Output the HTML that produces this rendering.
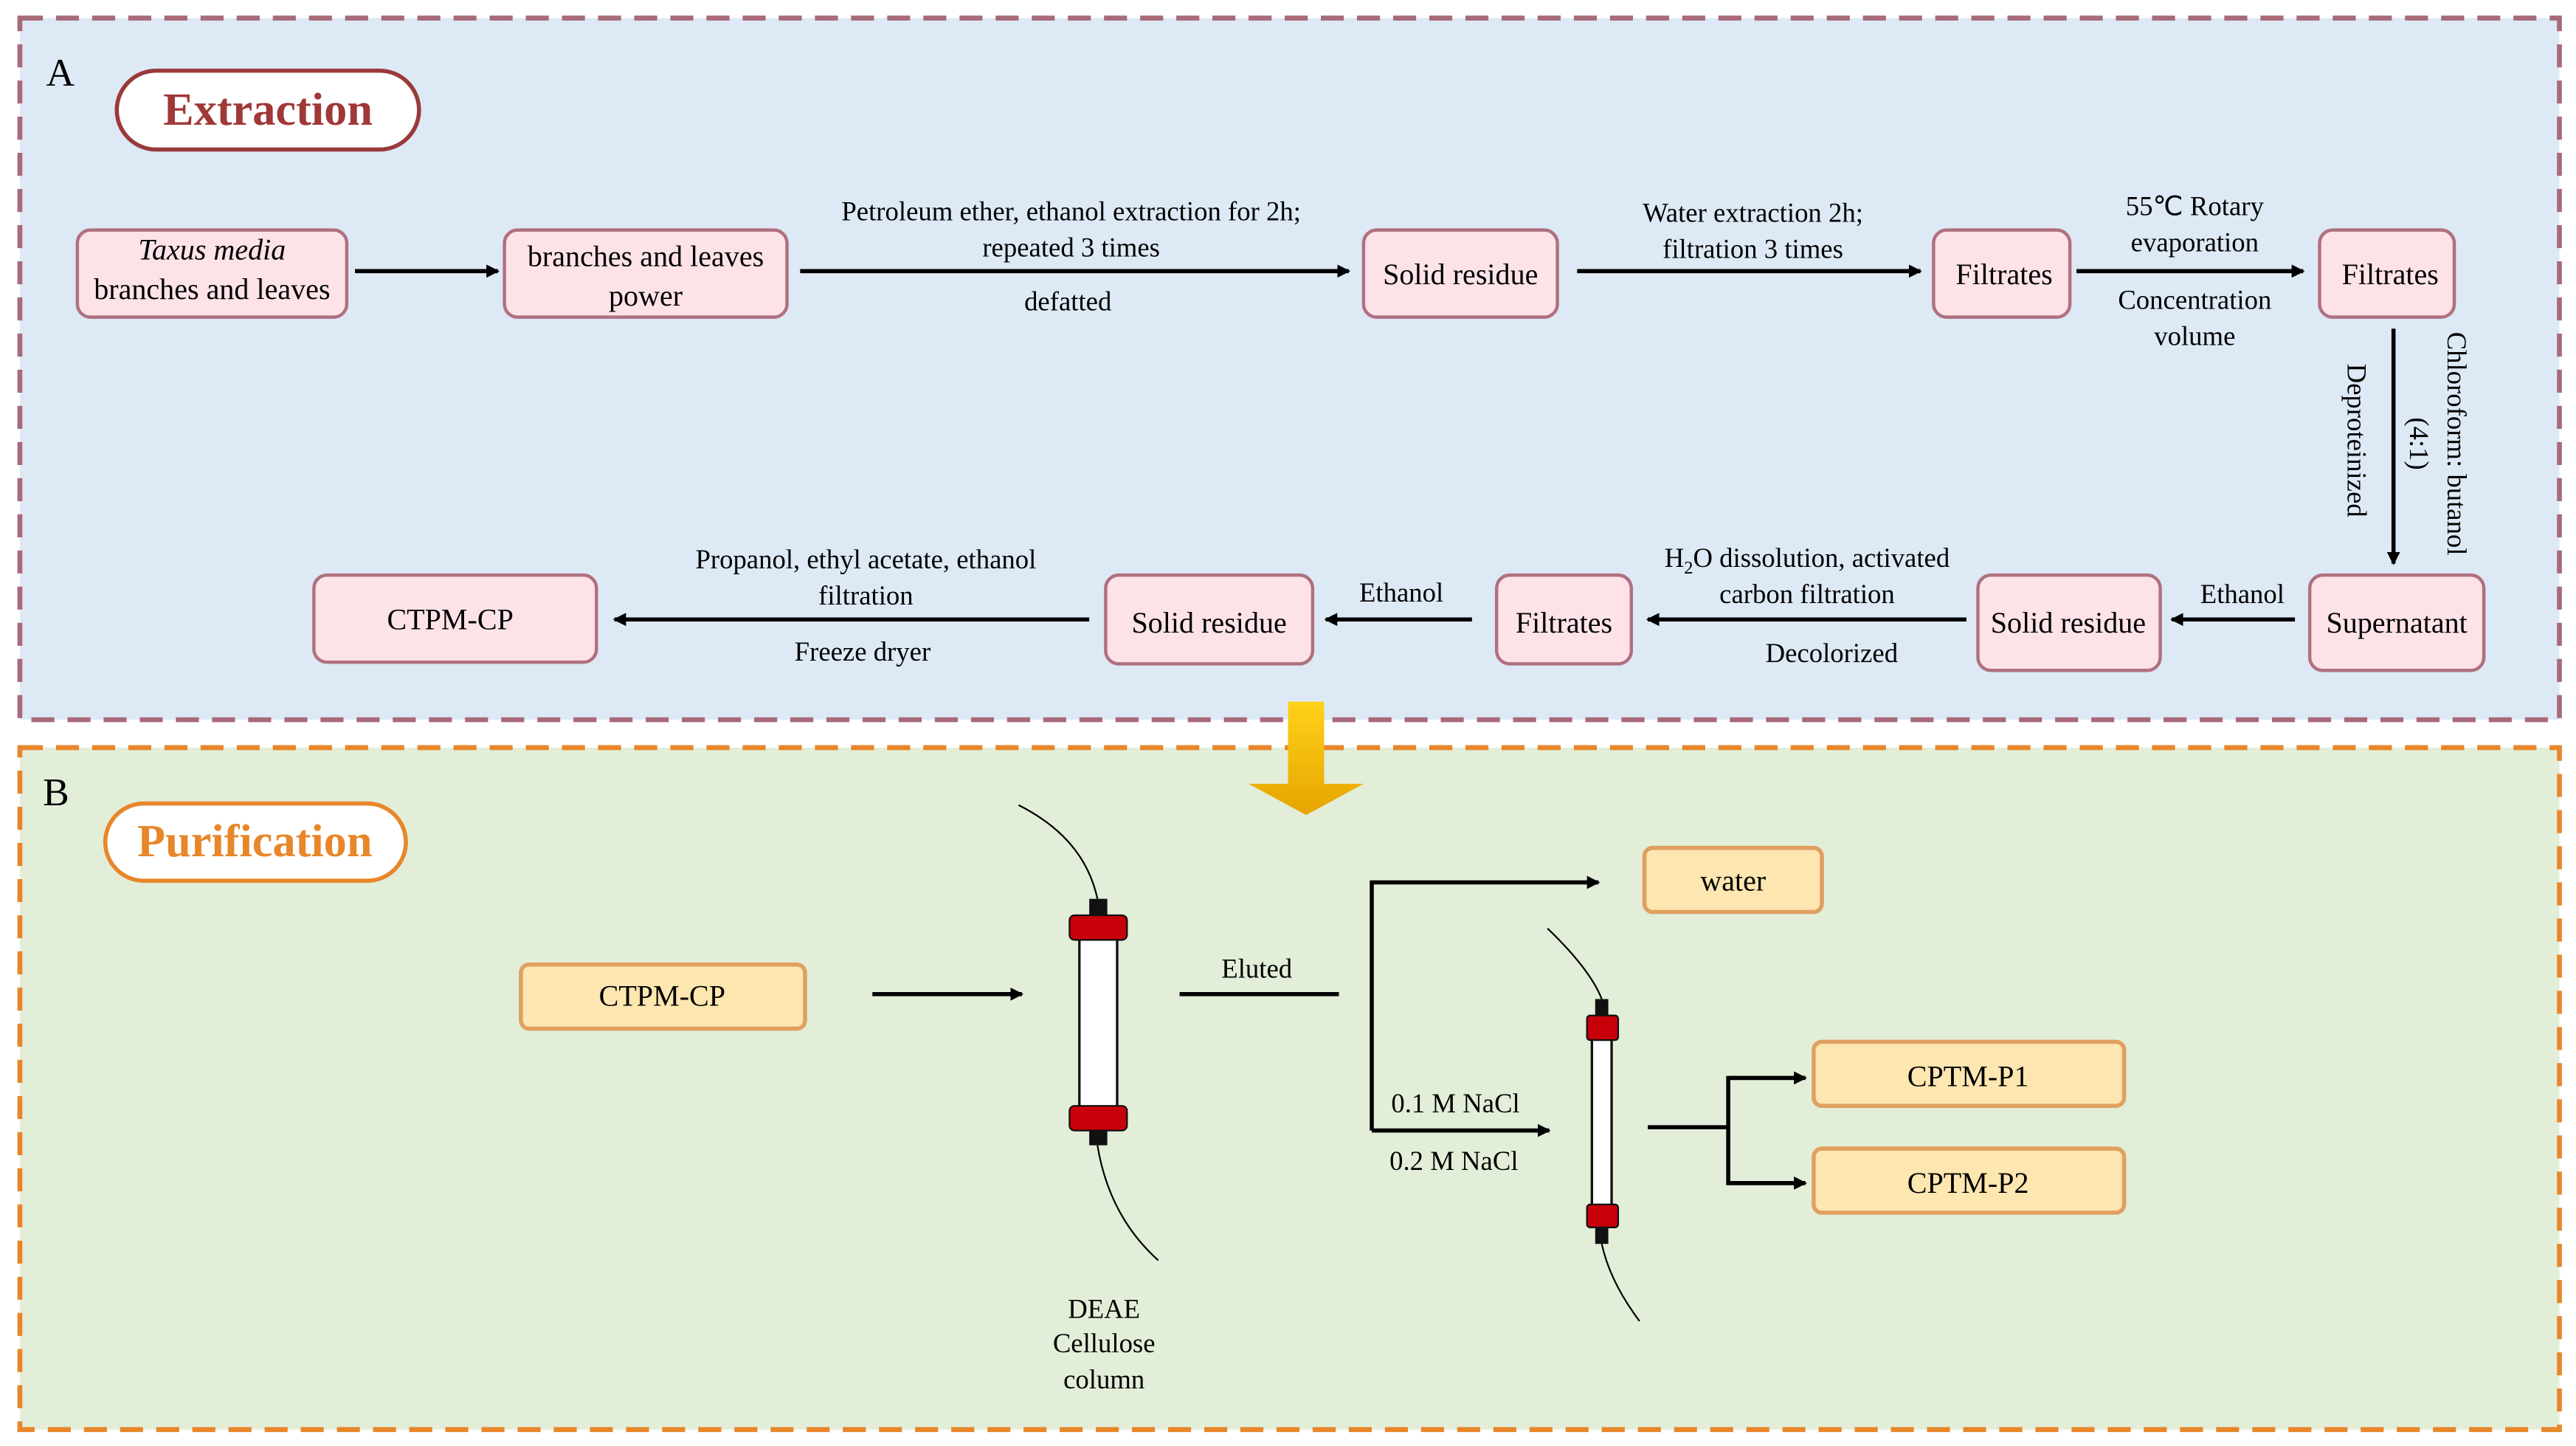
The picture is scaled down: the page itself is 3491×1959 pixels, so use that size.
<!DOCTYPE html>
<html><head><meta charset="utf-8"><style>html,body{margin:0;padding:0;background:#fff}svg{display:block}svg text{font-family:"Liberation Serif","Times New Roman",serif}</style></head>
<body>
<svg width="3491" height="1959" viewBox="0 0 1568 880" xmlns="http://www.w3.org/2000/svg" style="font-family:'Liberation Serif',serif" font-size="17">
<defs>
<marker id="ah" markerWidth="8" markerHeight="8" refX="7" refY="4" orient="auto" markerUnits="userSpaceOnUse"><path d="M0,0 L8,4 L0,8 z" fill="#000"/></marker>
<linearGradient id="yg" x1="0" y1="0" x2="0" y2="1"><stop offset="0" stop-color="#ffd21a"/><stop offset="1" stop-color="#e6a400"/></linearGradient>
</defs>
<rect x="12" y="11" width="1546" height="427" fill="#dde9f5" stroke="#a86a7a" stroke-width="3" stroke-dasharray="14,8"/>
<rect x="12" y="455" width="1546" height="415" fill="#e2eed8" stroke="#e8862a" stroke-width="3" stroke-dasharray="14,8"/>
<text x="28" y="52" font-size="24">A</text>
<rect x="71" y="43" width="184" height="48" rx="24" fill="#fff" stroke="#9a3a3a" stroke-width="2.5"/>
<text x="163" y="76" font-size="28" font-weight="bold" fill="#a03838" text-anchor="middle">Extraction</text>
<g fill="#fde3e8" stroke="#b07080" stroke-width="2">
<rect x="47" y="140" width="164" height="53" rx="8"/><rect x="307" y="140" width="172" height="53" rx="8"/>
<rect x="830" y="140" width="118" height="53" rx="8"/><rect x="1177" y="140" width="83" height="53" rx="8"/>
<rect x="1412" y="140" width="82" height="53" rx="8"/>
<rect x="1406" y="350" width="106" height="58" rx="8"/><rect x="1204" y="350" width="111" height="58" rx="8"/>
<rect x="911" y="350" width="82" height="54" rx="8"/><rect x="673" y="350" width="126" height="54" rx="8"/>
<rect x="191" y="350" width="172" height="53" rx="8"/>
</g>
<g text-anchor="middle" font-size="18">
<text x="129" y="158" font-style="italic">Taxus media</text><text x="129" y="182">branches and leaves</text>
<text x="393" y="162">branches and leaves</text><text x="393" y="186">power</text>
<text x="889" y="173">Solid residue</text><text x="1220" y="173">Filtrates</text><text x="1455" y="173">Filtrates</text>
<text x="1459" y="385">Supernatant</text><text x="1259" y="385">Solid residue</text><text x="952" y="385">Filtrates</text>
<text x="736" y="385">Solid residue</text><text x="274" y="383">CTPM-CP</text>
</g>
<g stroke="#000" stroke-width="2.5" marker-end="url(#ah)">
<line x1="216" y1="165" x2="303" y2="165"/><line x1="487" y1="165" x2="821" y2="165"/>
<line x1="960" y1="165" x2="1169" y2="165"/><line x1="1264" y1="165" x2="1402" y2="165"/>
<line x1="1457" y1="200" x2="1457" y2="343"/>
<line x1="1397" y1="377" x2="1322" y2="377"/><line x1="1197" y1="377" x2="1003" y2="377"/>
<line x1="896" y1="377" x2="807" y2="377"/><line x1="663" y1="377" x2="374" y2="377"/>
</g>
<g text-anchor="middle" font-size="16.5">
<text x="652" y="134">Petroleum ether, ethanol extraction for 2h;</text><text x="652" y="156">repeated 3 times</text>
<text x="650" y="189">defatted</text>
<text x="1067" y="135">Water extraction 2h;</text><text x="1067" y="157">filtration 3 times</text>
<text x="1336" y="131">55℃ Rotary</text><text x="1336" y="153">evaporation</text>
<text x="1336" y="188">Concentration</text><text x="1336" y="210">volume</text>
<text x="1365" y="367">Ethanol</text>
<text x="1100" y="345">H<tspan font-size="11" dy="4">2</tspan><tspan dy="-4">O dissolution, activated</tspan></text>
<text x="1100" y="367">carbon filtration</text><text x="1115" y="403">Decolorized</text>
<text x="853" y="366">Ethanol</text>
<text x="527" y="346">Propanol, ethyl acetate, ethanol</text><text x="527" y="368">filtration</text>
<text x="525" y="402">Freeze dryer</text>
<text transform="translate(1429,268) rotate(90)">Deproteinized</text>
<text transform="translate(1490,270) rotate(90)">Chloroform: butanol</text>
<text transform="translate(1467,270) rotate(90)">(4:1)</text>
</g>
<path d="M784,427 L806,427 L806,477 L830,477 L795,496 L760,477 L784,477 z" fill="url(#yg)"/>
<text x="26" y="490" font-size="24">B</text>
<rect x="64" y="489" width="183" height="47" rx="23.5" fill="#fff" stroke="#e8862a" stroke-width="2.5"/>
<text x="155" y="521" font-size="28" font-weight="bold" fill="#e8862a" text-anchor="middle">Purification</text>
<g fill="#fde6b0" stroke="#e0a060" stroke-width="2.5">
<rect x="317" y="587" width="173" height="39" rx="5"/><rect x="1001" y="516" width="108" height="39" rx="5"/>
<rect x="1104" y="634" width="189" height="39" rx="5"/><rect x="1104" y="699" width="189" height="39" rx="5"/>
</g>
<g text-anchor="middle" font-size="18">
<text x="403" y="612">CTPM-CP</text><text x="1055" y="542">water</text>
<text x="1198" y="661">CPTM-P1</text><text x="1198" y="726">CPTM-P2</text>
</g>
<g text-anchor="middle" font-size="16.5">
<text x="765" y="595">Eluted</text>
<text x="886" y="677">0.1 M NaCl</text><text x="885" y="712">0.2 M NaCl</text>
<text x="672" y="802">DEAE</text><text x="672" y="823">Cellulose</text><text x="672" y="845">column</text>
</g>
<g stroke="#000" stroke-width="2.5" fill="none">
<line x1="531" y1="605" x2="622" y2="605" marker-end="url(#ah)"/>
<line x1="718" y1="605" x2="815" y2="605"/>
<polyline points="835,688 835,537 973,537" marker-end="url(#ah)"/>
<line x1="835" y1="688" x2="943" y2="688" marker-end="url(#ah)"/>
<line x1="1003" y1="686" x2="1052" y2="686"/>
<polyline points="1098,656 1052,656 1052,720 1098,720"/>
<line x1="1052" y1="656" x2="1099" y2="656" marker-end="url(#ah)"/>
<line x1="1052" y1="720" x2="1099" y2="720" marker-end="url(#ah)"/>
</g>
<g fill="none" stroke="#000" stroke-width="1">
<path d="M620,490 Q660,510 668,547"/><path d="M668,697 Q675,740 705,767"/>
<path d="M942,565 Q968,590 975,608"/><path d="M975,757 Q980,780 998,804"/>
</g>
<rect x="663" y="547" width="11" height="12" fill="#111"/>
<rect x="657" y="570" width="23" height="105" fill="#fff" stroke="#111" stroke-width="1.5"/>
<rect x="651" y="557" width="35" height="15" rx="3" fill="#c8000a" stroke="#111" stroke-width="1"/>
<rect x="651" y="673" width="35" height="15" rx="3" fill="#c8000a" stroke="#111" stroke-width="1"/>
<rect x="663" y="688" width="11" height="9" fill="#111"/>
<rect x="971" y="608" width="8" height="12" fill="#111"/>
<rect x="969" y="630" width="12" height="105" fill="#fff" stroke="#111" stroke-width="1.5"/>
<rect x="966" y="618" width="19" height="15" rx="2" fill="#c8000a" stroke="#111" stroke-width="1"/>
<rect x="966" y="733" width="19" height="14" rx="2" fill="#c8000a" stroke="#111" stroke-width="1"/>
<rect x="971" y="747" width="8" height="10" fill="#111"/>
</svg>
</body></html>
